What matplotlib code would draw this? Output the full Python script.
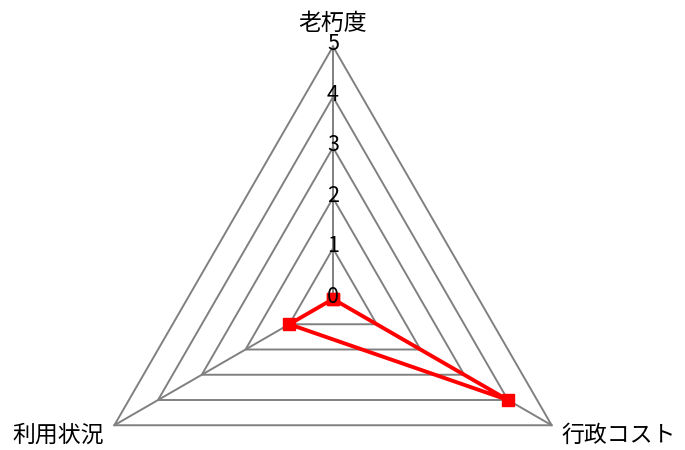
import numpy as np
import matplotlib
matplotlib.use('Agg')
import matplotlib.pyplot as plt

plt.rcParams['font.family'] = ['Noto Sans CJK JP', 'DejaVu Sans']

##########Data
categories = ['老朽度', '行政コスト', '利用状況']
values = [0, 4, 1]
levels = [1, 2, 3, 4, 5]
tick_labels = ['0', '1', '2', '3', '4', '5']

#####
angles = np.deg2rad([90, -30, 210])
ax_x = np.cos(angles)
ax_y = np.sin(angles)

fig = plt.figure(figsize=(6.85, 4.5), dpi=100)
ax = fig.add_axes([0, 0, 1, 1])
scale = 50.5
ax.set_xlim(-333 / scale, (685 - 333) / scale)
ax.set_ylim(-(450 - 299) / scale, 299 / scale)
ax.axis('off')

##### grid rings
for lv in levels:
    xs = list(lv * ax_x) + [lv * ax_x[0]]
    ys = list(lv * ax_y) + [lv * ax_y[0]]
    ax.plot(xs, ys, color='#808080', lw=1.4, zorder=1)
# spokes
for cx, cy in zip(ax_x, ax_y):
    ax.plot([0, levels[-1] * cx], [0, levels[-1] * cy], color='#808080', lw=1.4, zorder=1)

##### tick labels along the top axis (drawn over the data line)
for i, t in enumerate(tick_labels):
    ax.text(0, i + 0.04, t, ha='center', va='center', fontsize=15.5, zorder=4)

##### data
vals = np.array(values, dtype=float)
dx = list(vals * ax_x) + [vals[0] * ax_x[0]]
dy = list(vals * ax_y) + [vals[0] * ax_y[0]]
ax.plot(dx, dy, color='red', lw=2.8, marker='s', markersize=9, zorder=3)

##### category labels
ax.text(0, 5.45, categories[0], ha='center', va='center', fontsize=16.5)
ax.text(5 * ax_x[1] + 0.2, 5 * ax_y[1] - 0.2, categories[1], ha='left', va='center', fontsize=16.5)
ax.text(5 * ax_x[2] - 0.2, 5 * ax_y[2] - 0.2, categories[2], ha='right', va='center', fontsize=16.5)

plt.savefig('out.png')
